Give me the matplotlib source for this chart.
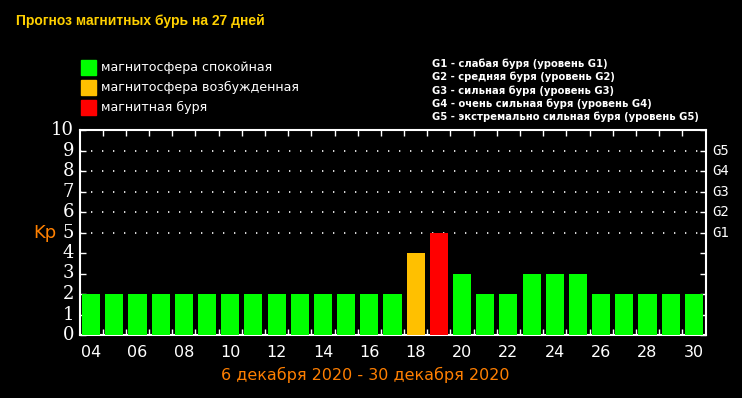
import matplotlib
matplotlib.use("Agg")
import matplotlib.pyplot as plt
from matplotlib.patches import Rectangle

days = ["04","05","06","07","08","09","10","11","12","13","14","15","16","17",
        "18","19","20","21","22","23","24","25","26","27","28","29","30"]
kp = [2,2,2,2,2,2,2,2,2,2,2,2,2,2,4,5,3,2,2,3,3,3,2,2,2,2,2]
status = ["q"]*14 + ["a","s"] + ["q"]*11
status_colors = {"q": "#00FF00", "a": "#FFC000", "s": "#FF0000"}
legend_labels = ["магнитосфера спокойная", "магнитосфера возбужденная", "магнитная буря"]
g_levels = ["G1", "G2", "G3", "G4", "G5"]
g_kp = [5, 6, 7, 8, 9]
g_desc = ["G1 - слабая буря (уровень G1)",
          "G2 - средняя буря (уровень G2)",
          "G3 - сильная буря (уровень G3)",
          "G4 - очень сильная буря (уровень G4)",
          "G5 - экстремально сильная буря (уровень G5)"]
title = "Прогноз магнитных бурь на 27 дней"
period = "6 декабря 2020 - 30 декабря 2020"

W, H = 742, 398
fig = plt.figure(figsize=(W/100, H/100), dpi=100, facecolor="black")
ax = fig.add_axes([79.5/W, 1-335/H, 626/W, 205/H], facecolor="black")

x = list(range(len(days)))
ax.bar(x, kp, width=0.78, color=[status_colors[s] for s in status], zorder=3)
ax.set_xlim(-0.5, len(days)-0.5)
ax.set_ylim(0, 10)

for v in g_kp:
    ax.axhline(v, color="white", lw=1.2, dashes=(0.8, 5.8), zorder=1)

for sp in ax.spines.values():
    sp.set_color("white")
    sp.set_linewidth(1.5)

ax.set_xticks(x[::2])
ax.set_xticklabels(days[::2], color="white", fontsize=11.5, family="DejaVu Sans")
ax.tick_params(axis="x", which="major", length=0, pad=7)
ax.set_xticks([i + 0.5 for i in x[:-1]], minor=True)
ax.tick_params(axis="x", which="minor", direction="in", length=4, color="white",
               top=True, bottom=True, width=1)
ax.set_yticks(range(0, 11))
ax.set_yticklabels([str(i) for i in range(11)], color="white", fontsize=13,
                   family="DejaVu Serif")
ax.tick_params(axis="y", direction="in", length=4, color="white", width=1,
               left=True, right=True, pad=4)
for lbl in ax.get_yticklabels():
    lbl.set_verticalalignment("center")

for g, v in zip(g_levels, g_kp):
    ax.text(1.01, v, g, transform=ax.get_yaxis_transform(), color="white",
            fontsize=10, va="center", ha="left", family="DejaVu Sans Mono")

fig.text(33/W, 1-233/H, "Kp", color="#FF8000", fontsize=13, va="center", ha="left")
fig.text(16/W, 1-21/H, title, color="#FFD000", fontsize=10, fontweight="bold",
         family="Liberation Sans", va="center", ha="left")

leg_y = [67, 87, 107]
for lbl, key, y in zip(legend_labels, ["q", "a", "s"], leg_y):
    fig.patches.append(Rectangle((81/W, 1-(y+7.5)/H), 15/W, 15/H,
                                 transform=fig.transFigure, color=status_colors[key]))
    fig.text(101/W, 1-y/H, lbl, color="white", fontsize=9.1, va="center", ha="left")

for i, d in enumerate(g_desc):
    fig.text(432/W, 1-(64+13.2*i)/H, d, color="white", fontsize=7.2,
             fontweight="bold", va="center", ha="left", family="DejaVu Sans")

fig.text(365/W, 1-375/H, period, color="#FF7F00", fontsize=11.5, va="center", ha="center")

fig.savefig("out.png", dpi=100, facecolor="black")
